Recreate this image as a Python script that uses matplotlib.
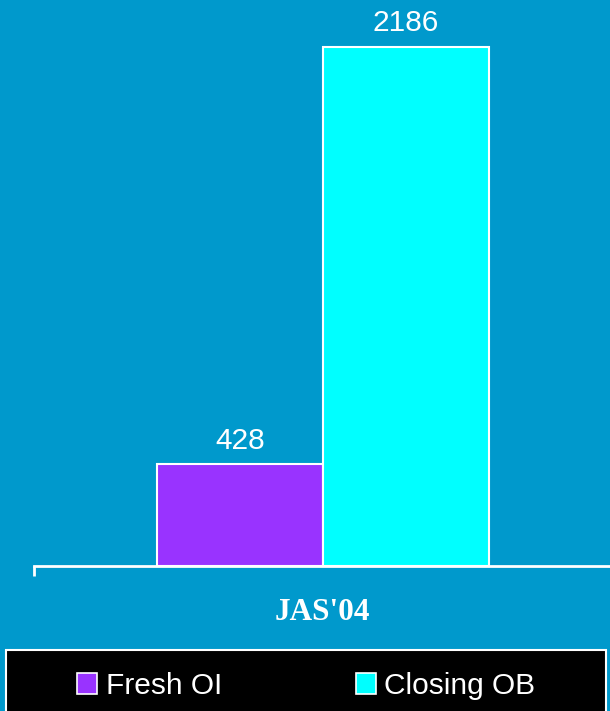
import matplotlib
matplotlib.use("Agg")
import matplotlib.pyplot as plt
from matplotlib.patches import Rectangle, Patch

categories = ["JAS'04"]
series_names = ["Fresh OI", "Closing OB"]
fresh_oi = [428]
closing_ob = [2186]
colors = ["#9933FF", "#00FFFF"]
bg = "#0099CC"

W, H = 610, 711
fig = plt.figure(figsize=(W / 100, H / 100), dpi=100, facecolor=bg)

# axes: left edge at x=34, baseline at y=566, top at image top
ax = fig.add_axes([34 / W, (H - 566) / H, (W - 34) / W, 566 / H])
ax.set_facecolor(bg)

bw = 0.4
x0 = 0
for i, (vals, c) in enumerate(zip([fresh_oi, closing_ob], colors)):
    xpos = x0 + (i - 0.5) * bw
    bars = ax.bar([xpos], vals, width=bw, color=c, edgecolor="white", linewidth=1.5)
    for b, v in zip(bars, vals):
        ax.annotate(str(v), (b.get_x() + b.get_width() / 2, v), xytext=(0, 7),
                    textcoords="offset points", ha="center", va="bottom",
                    color="white", fontsize=21.5, family="Liberation Sans")

ax.set_xlim(-0.696, 0.692)
ax.set_ylim(0, 2186 * 566 / 519)

for s in ["top", "right", "left"]:
    ax.spines[s].set_visible(False)
ax.spines["bottom"].set_color("white")
ax.spines["bottom"].set_linewidth(2)
ax.set_yticks([])
ax.set_xticks([x0])
ax.set_xticklabels(categories, color="white", fontsize=22.5, fontweight="bold",
                   family="Liberation Serif")
ax.tick_params(axis="x", length=0, pad=23)
ax.set_xticks([-0.696], minor=True)
ax.tick_params(axis="x", which="minor", length=7, width=2, color="white", direction="out")

# legend box
fig.patches.append(Rectangle((6 / W, -0.01), 600 / W, (H - 650) / H + 0.01,
                             transform=fig.transFigure, facecolor="black",
                             edgecolor="white", linewidth=1.5, zorder=0))
handles = [Patch(facecolor=c, edgecolor="white", linewidth=1.2) for c in colors]
leg = fig.legend(handles, series_names, loc="center", bbox_to_anchor=(0.5025, (H - 686) / H),
                 ncol=2, frameon=False, handlelength=0.67, handleheight=0.67,
                 handletextpad=0.3, columnspacing=4.45,
                 prop={"family": "Liberation Sans", "size": 21.5})
for t in leg.get_texts():
    t.set_color("white")

fig.savefig("out.png", dpi=100, facecolor=bg)
